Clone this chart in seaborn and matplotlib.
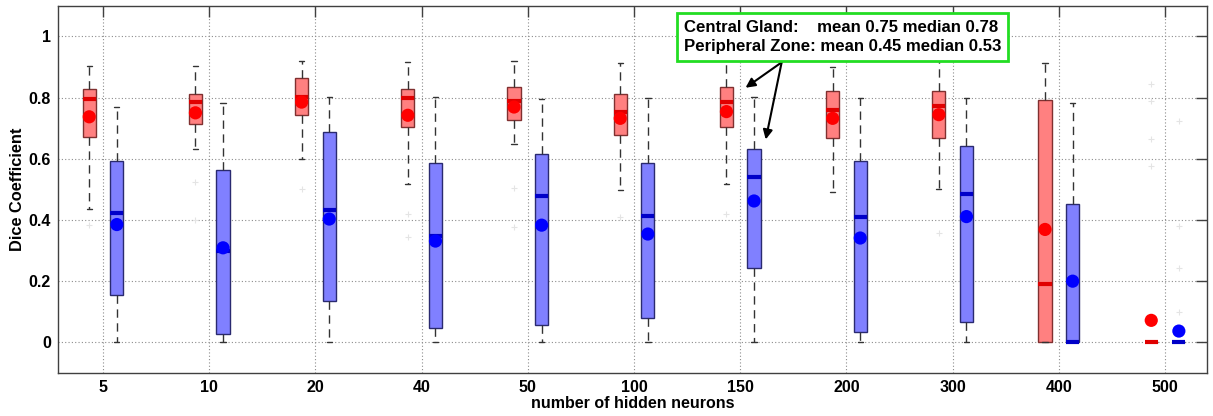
import matplotlib
matplotlib.use("Agg")
import matplotlib.pyplot as plt
import numpy as np
import pandas as pd
import seaborn as sns

# Number of hidden neurons (categories on the x axis)
neurons = ["5", "10", "20", "40", "50", "100", "150", "200", "300", "400", "500"]

# Central Gland box statistics
cg_whislo = [0.435, 0.632, 0.599, 0.516, 0.647, 0.498, 0.516, 0.490, 0.501, 0.000, 0.000]
cg_q1     = [0.671, 0.712, 0.743, 0.704, 0.725, 0.678, 0.703, 0.668, 0.669, 0.000, 0.000]
cg_med    = [0.796, 0.785, 0.803, 0.797, 0.789, 0.753, 0.786, 0.759, 0.771, 0.190, 0.000]
cg_q3     = [0.829, 0.813, 0.864, 0.829, 0.833, 0.810, 0.835, 0.822, 0.822, 0.791, 0.000]
cg_whishi = [0.904, 0.904, 0.918, 0.916, 0.920, 0.914, 0.930, 0.900, 0.930, 0.912, 0.000]
cg_mean   = [0.737, 0.750, 0.785, 0.742, 0.769, 0.732, 0.754, 0.732, 0.744, 0.369, 0.072]
cg_fliers = [[0.385], [0.524, 0.400], [0.500], [0.420, 0.344], [0.505, 0.377],
             [0.410], [0.418], [], [0.359], [], [0.843, 0.789, 0.663, 0.577]]

# Peripheral Zone box statistics
pz_whislo = [0.000, 0.000, 0.000, 0.000, 0.000, 0.000, 0.000, 0.000, 0.000, 0.000, 0.000]
pz_q1     = [0.156, 0.028, 0.135, 0.048, 0.057, 0.081, 0.242, 0.033, 0.065, 0.000, 0.000]
pz_med    = [0.423, 0.300, 0.434, 0.346, 0.478, 0.412, 0.541, 0.410, 0.486, 0.000, 0.000]
pz_q3     = [0.594, 0.563, 0.688, 0.586, 0.617, 0.586, 0.632, 0.593, 0.641, 0.453, 0.000]
pz_whishi = [0.770, 0.782, 0.803, 0.803, 0.794, 0.800, 0.803, 0.797, 0.797, 0.782, 0.000]
pz_mean   = [0.385, 0.309, 0.403, 0.331, 0.383, 0.354, 0.462, 0.341, 0.411, 0.200, 0.037]
pz_fliers = [[], [], [], [], [], [], [], [], [], [], [0.724, 0.380, 0.244, 0.098]]

summary_lines = ["Central Gland:    mean 0.75 median 0.78",
                 "Peripheral Zone: mean 0.45 median 0.53"]

sns.set_theme(style="white")
plt.rcParams["font.family"] = ["Liberation Sans", "DejaVu Sans"]
plt.rcParams["font.weight"] = "bold"
plt.rcParams["text.color"] = "black"
plt.rcParams["axes.labelcolor"] = "black"
plt.rcParams["xtick.color"] = "black"
plt.rcParams["ytick.color"] = "black"

fig = plt.figure(figsize=(12.13, 4.16), dpi=100)
ax = fig.add_axes([58 / 1213, 1 - 373 / 416, (1207 - 58) / 1213, (373 - 5.7) / 416])

idx = np.arange(1, len(neurons) + 1)
offset = 0.13
box_w = 0.125


def stats(whislo, q1, med, q3, whishi, fliers, means):
    return [dict(whislo=a, q1=b, med=c, q3=d, whishi=e, fliers=f, mean=m)
            for a, b, c, d, e, f, m in zip(whislo, q1, med, q3, whishi, fliers, means)]


def draw(st, pos, face, edge, medc):
    ax.bxp(st, positions=pos, widths=box_w, capwidths=0.05, patch_artist=True,
           showmeans=False, manage_ticks=False,
           boxprops=dict(facecolor=face, edgecolor=edge, linewidth=1.0),
           medianprops=dict(color=medc, linewidth=3, solid_capstyle="butt"),
           whiskerprops=dict(color="#333333", linewidth=1.0, linestyle=(0, (6, 4))),
           capprops=dict(color="#333333", linewidth=1.0),
           flierprops=dict(marker="+", markersize=4, markeredgecolor="#e4e4e4",
                           markeredgewidth=0.8, linestyle="none"))


draw(stats(cg_whislo, cg_q1, cg_med, cg_q3, cg_whishi, cg_fliers, cg_mean),
     idx - offset, "#ff8080", "#803030", "#e00000")
draw(stats(pz_whislo, pz_q1, pz_med, pz_q3, pz_whishi, pz_fliers, pz_mean),
     idx + offset, "#8080ff", "#2a2a70", "#0000c8")

# Mean markers
means = pd.DataFrame({
    "pos": np.concatenate([idx - offset, idx + offset]),
    "mean": cg_mean + pz_mean,
    "region": ["Central Gland"] * len(neurons) + ["Peripheral Zone"] * len(neurons),
})
sns.scatterplot(data=means, x="pos", y="mean", hue="region",
                palette={"Central Gland": "#ff0000", "Peripheral Zone": "#0000ff"},
                s=90, linewidth=0, legend=False, zorder=5, ax=ax)

ax.set_xlim(0.576, 11.395)
ax.set_ylim(-0.1, 1.1)
ax.set_xticks(idx)
ax.set_xticklabels(neurons)
ax.set_yticks([0, 0.2, 0.4, 0.6, 0.8, 1.0])
ax.set_yticklabels(["0", "0.2", "0.4", "0.6", "0.8", "1"])
ax.grid(True, linestyle=(0, (1, 2)), color="#8c8c8c", linewidth=0.8)
ax.set_axisbelow(True)
ax.tick_params(direction="in", length=8, width=1, color="#404040",
               top=True, right=True, labelsize=11.5, pad=5)
for lab in ax.get_xticklabels() + ax.get_yticklabels():
    lab.set_fontweight("bold")
for s in ax.spines.values():
    s.set_color("#404040")
    s.set_linewidth(1.0)

ax.set_xlabel("number of hidden neurons", fontsize=11.5, fontweight="bold", labelpad=1)
ax.set_ylabel("Dice Coefficient", fontsize=11.8, fontweight="bold", labelpad=3)

# Summary box with arrows
ax.text(0.5445, 0.961, "\n".join(summary_lines), transform=ax.transAxes,
        ha="left", va="top", fontsize=12.1, fontweight="bold", linespacing=1.33,
        zorder=10,
        bbox=dict(boxstyle="square,pad=0.42", facecolor="white",
                  edgecolor="#22dd22", linewidth=2))
for target in [(7.05, 0.832), (7.24, 0.663)]:
    ax.annotate("", xy=target, xytext=(7.39, 0.915),
                arrowprops=dict(arrowstyle="-|>", color="black", lw=1.5,
                                mutation_scale=14, shrinkA=0, shrinkB=0),
                zorder=9)

fig.savefig("out.png", dpi=100)
